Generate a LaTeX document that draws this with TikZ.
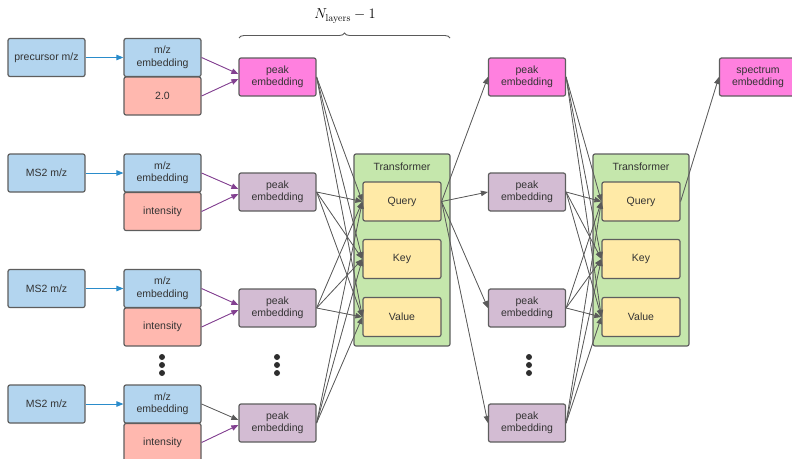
\documentclass[tikz,border=0pt]{standalone}
\usepackage[no-math]{fontspec}
\setmainfont{Liberation Sans}
\usetikzlibrary{arrows.meta,decorations.pathreplacing}
\definecolor{bord}{HTML}{5E5E5E}
\definecolor{txt}{HTML}{333333}
\definecolor{cblue}{HTML}{B3D5EF}
\definecolor{csalmon}{HTML}{FFB8AF}
\definecolor{cpink}{HTML}{FF80DF}
\definecolor{cpurple}{HTML}{D3BCD3}
\definecolor{cgreen}{HTML}{C5E7AC}
\definecolor{cyellow}{HTML}{FFEAA7}
\definecolor{ablue}{HTML}{2A8CCB}
\definecolor{apurple}{HTML}{834191}
\definecolor{agray}{HTML}{5A5A5A}
\tikzset{
  box/.style={rectangle, rounded corners=2pt, draw=bord, line width=1.2pt,
    minimum width=77pt, minimum height=38pt, align=center, text=txt,
    font=\fontsize{10.5}{12.5}\selectfont, inner sep=1pt},
  inbox/.style={box, fill=cblue},
  salbox/.style={box, fill=csalmon},
  pinkbox/.style={box, fill=cpink},
  purbox/.style={box, fill=cpurple},
  qkv/.style={box, fill=cyellow, minimum width=78pt, minimum height=39pt},
  tbox/.style={rectangle, rounded corners=2pt, draw=bord, line width=1.2pt,
    fill=cgreen, minimum width=96pt, minimum height=192pt},
  tip/.style={-{Triangle[length=7pt,width=5.5pt]}},
  barr/.style={tip, draw=ablue, fill=ablue, line width=0.9pt},
  parr/.style={tip, draw=apurple, fill=apurple, line width=0.9pt},
  garr/.style={tip, draw=agray, fill=agray, line width=0.8pt},
  dotc/.style={circle, fill=txt!90!black, inner sep=0pt, minimum size=6pt},
}
\begin{document}
\begin{tikzpicture}[x=1pt,y=-1pt]
\useasboundingbox (0,0) rectangle (792,458);
% input column
\node[inbox] (in1) at (46.5,57.5) {precursor m/z};
\node[inbox] (in2) at (46.5,173) {MS2 m/z};
\node[inbox] (in3) at (46.5,288.5) {MS2 m/z};
\node[inbox] (in4) at (46.5,404) {MS2 m/z};
% embedding column
\node[inbox] (m1) at (162.5,57.5) {m/z\\embedding};
\node[salbox] (s1) at (162.5,96) {2.0};
\node[inbox] (m2) at (162.5,173) {m/z\\embedding};
\node[salbox] (s2) at (162.5,211.5) {intensity};
\node[inbox] (m3) at (162.5,288.5) {m/z\\embedding};
\node[salbox] (s3) at (162.5,327) {intensity};
\node[inbox] (m4) at (162.5,404) {m/z\\embedding};
\node[salbox] (s4) at (162.5,442.5) {intensity};
% peak column 1
\node[pinkbox] (p1) at (277.5,77) {peak\\embedding};
\node[purbox] (p2) at (277.5,192) {peak\\embedding};
\node[purbox] (p3) at (277.5,308) {peak\\embedding};
\node[purbox] (p4) at (277.5,423) {peak\\embedding};
% transformer 1
\node[tbox] (t1) at (402,250) {};
\node[text=txt, font=\fontsize{10.5}{12.5}\selectfont] (t1l) at (402,167) {Transformer};
\node[qkv] (q1) at (402,201.5) {Query};
\node[qkv] (k1) at (402,259) {Key};
\node[qkv] (v1) at (402,317) {Value};
% peak column 2
\node[pinkbox] (r1) at (527,77) {peak\\embedding};
\node[purbox] (r2) at (527,192) {peak\\embedding};
\node[purbox] (r3) at (527,308) {peak\\embedding};
\node[purbox] (r4) at (527,423) {peak\\embedding};
% transformer 2
\node[tbox] (t2) at (641,250) {};
\node[text=txt, font=\fontsize{10.5}{12.5}\selectfont] (t2l) at (641,167) {Transformer};
\node[qkv] (q2) at (641,201.5) {Query};
\node[qkv] (k2) at (641,259) {Key};
\node[qkv] (v2) at (641,317) {Value};
% spectrum embedding
\node[pinkbox] (sp) at (758,77) {spectrum\\embedding};
% dots
\foreach \x/\n in {162/a,277/b,529/c}{
  \node[dotc] (d1\n) at (\x,357) {};
  \node[dotc] (d2\n) at (\x,365) {};
  \node[dotc] (d3\n) at (\x,373) {};
}
% brace
\coordinate (bl) at (239,38);
\coordinate (br) at (450,38);
\draw[agray, line width=0.9pt, decorate, decoration={brace, amplitude=5pt, raise=0pt}] (bl) -- (br);
\node[font=\fontsize{14}{16}\selectfont] (nl) at (345,16) {$N_{\mathrm{layers}}-1$};
% blue arrows
\foreach \i in {1,2,3,4}{
  \draw[barr] (in\i.east) -- (m\i.west);
}
% purple arrows
\foreach \i in {1,2,3}{
  \draw[parr] (m\i.east) -- ([yshift=3pt]p\i.west);
  \draw[parr] (s\i.east) -- ([yshift=-2pt]p\i.west);
}
\draw[garr] (m4.east) -- ([yshift=3pt]p4.west);
\draw[parr] (s4.east) -- ([yshift=-2pt]p4.west);
% peak col 1 -> Q K V 1
\foreach \i in {1,2,3,4}{
  \draw[garr] (p\i.east) -- (q1.west);
  \draw[garr] (p\i.east) -- (k1.west);
  \draw[garr] (p\i.east) -- (v1.west);
}
% Query1 -> peak col 2
\foreach \i in {1,2,3,4}{
  \draw[garr] (q1.east) -- (r\i.west);
}
% peak col 2 -> Q K V 2
\foreach \i in {1,2,3,4}{
  \draw[garr] (r\i.east) -- (q2.west);
  \draw[garr] (r\i.east) -- (k2.west);
  \draw[garr] (r\i.east) -- (v2.west);
}
\draw[garr] (q2.east) -- (sp.west);
\end{tikzpicture}
\end{document}
